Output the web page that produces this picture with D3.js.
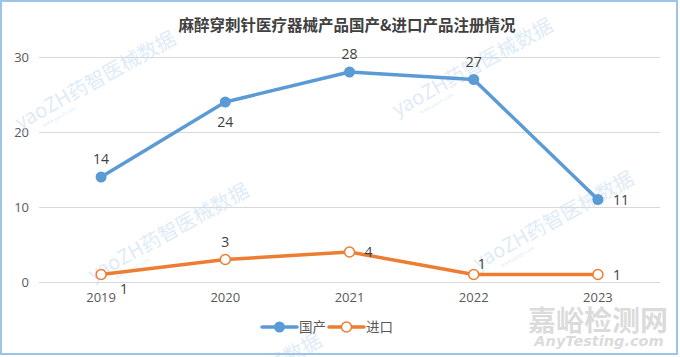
<!DOCTYPE html>
<html><head><meta charset="utf-8">
<script src="https://cdn.jsdelivr.net/npm/d3@7"></script>
<style>
html,body{margin:0;padding:0;background:#fff;}
svg{display:block;}
</style></head>
<body>
<svg id="chart" width="680" height="357"></svg>
<script>
const title = "麻醉穿刺针医疗器械产品国产&进口产品注册情况";
const categories = ["2019","2020","2021","2022","2023"];
const domestic = [14,24,28,27,11];
const imported = [1,3,4,1,1];
const seriesNames = ["国产","进口"];
const yTicks = [0,10,20,30];
// label placement (style, not data)
const domesticLabelPos = ["above","below","above","above","right"];
const importedLabelPos = ["belowright","above","right","aboveright","right"];

const W = 680, H = 357;
const svg = d3.select("#chart");
const font = "'Open Sans','Noto Sans','Noto Sans CJK SC',sans-serif";
const cjk = "'Noto Sans CJK SC','Noto Sans',sans-serif";
const blue = "#5b9bd5", orange = "#ed7d31";

svg.append("rect").attr("x",0).attr("y",0).attr("width",W).attr("height",H).attr("fill","#fff");

const x = d3.scaleBand().domain(categories).range([39,660]);
const y = d3.scaleLinear().domain([0,30]).range([282,57]);
const cx = c => x(c) + x.bandwidth()/2;

// grid
const grid = svg.append("g").attr("transform","translate(39,0)")
  .call(d3.axisLeft(y).tickValues(yTicks).tickSize(-(660-39)).tickFormat(""));
grid.select(".domain").remove();
grid.selectAll("line").attr("stroke","#d9d9d9").attr("stroke-width",1);

// y tick labels
const yAx = svg.append("g").attr("transform","translate(39,0)")
  .call(d3.axisLeft(y).tickValues(yTicks).tickSize(0).tickPadding(10));
yAx.select(".domain").remove();
yAx.selectAll("text").attr("font-family",font).attr("font-size",13).attr("fill","#595959");

// x labels
const xAx = svg.append("g").attr("transform","translate(0,282)")
  .call(d3.axisBottom(x).tickSize(0).tickPadding(11));
xAx.select(".domain").remove();
xAx.selectAll("text").attr("font-family",font).attr("font-size",13).attr("fill","#595959");

// watermarks
const wm = svg.append("g").attr("pointer-events","none");
const wmStarts = [[20,130],[397,117],[93,282],[478,270],[166,432]];
wmStarts.forEach(([sx,sy])=>{
  const g = wm.append("g").attr("transform",`translate(${sx},${sy}) rotate(-29)`);
  g.append("text").attr("font-family",cjk).attr("font-size",20)
    .attr("fill","#c9def3").attr("fill-opacity",0.6).text("yaoZH药智医械数据");
  g.append("text").attr("x",22).attr("y",9).attr("font-family",font).attr("font-size",5)
    .attr("fill","#c9def3").attr("fill-opacity",0.7).text("www.yaozh.com");
});

// lines
const line = d3.line().x((d,i)=>cx(categories[i])).y(d=>y(d));
svg.append("path").datum(domestic).attr("d",line).attr("fill","none")
  .attr("stroke",blue).attr("stroke-width",3.5).attr("stroke-linejoin","round").attr("stroke-linecap","round");
svg.append("path").datum(imported).attr("d",line).attr("fill","none")
  .attr("stroke",orange).attr("stroke-width",3.5).attr("stroke-linejoin","round").attr("stroke-linecap","round");

svg.append("g").selectAll("circle").data(domestic).join("circle")
  .attr("cx",(d,i)=>cx(categories[i])).attr("cy",d=>y(d)).attr("r",5.5).attr("fill",blue);
svg.append("g").selectAll("circle").data(imported).join("circle")
  .attr("cx",(d,i)=>cx(categories[i])).attr("cy",d=>y(d)).attr("r",5).attr("fill","#fff")
  .attr("stroke",orange).attr("stroke-width",1.5);

function offs(p){
  switch(p){
    case "above": return [0,-13,"middle"];
    case "below": return [0,25,"middle"];
    case "right": return [15,5,"start"];
    case "belowright": return [19,19,"start"];
    case "aboveright": return [4,-6,"start"];
  }
}
function labels(data,pos){
  svg.append("g").selectAll("text").data(data).join("text")
    .attr("x",(d,i)=>cx(categories[i])+offs(pos[i])[0])
    .attr("y",(d,i)=>y(d)+offs(pos[i])[1])
    .attr("text-anchor",(d,i)=>offs(pos[i])[2])
    .attr("font-family",font).attr("font-size",14).attr("fill","#404040")
    .text(d=>d);
}
labels(domestic,domesticLabelPos);
labels(imported,importedLabelPos);

// title
svg.append("text").attr("x",347).attr("y",31).attr("text-anchor","middle")
  .attr("font-family",cjk).attr("font-weight","bold").attr("font-size",15.5).attr("fill","#404040")
  .text(title);

// legend
const lg = svg.append("g");
const legendItems = [
  {name:seriesNames[0], color:blue, filled:true, x0:262},
  {name:seriesNames[1], color:orange, filled:false, x0:329}
];
legendItems.forEach(it=>{
  lg.append("line").attr("x1",it.x0).attr("x2",it.x0+35).attr("y1",327).attr("y2",327)
    .attr("stroke",it.color).attr("stroke-width",3.5).attr("stroke-linecap","round");
  lg.append("circle").attr("cx",it.x0+17.5).attr("cy",327).attr("r",it.filled?5.5:5)
    .attr("fill",it.filled?it.color:"#fff").attr("stroke",it.filled?"none":it.color).attr("stroke-width",1.5);
  lg.append("text").attr("x",it.x0+37).attr("y",332).attr("font-family",cjk).attr("font-size",13.5)
    .attr("fill","#595959").text(it.name);
});

// AnyTesting logo
svg.append("text").attr("x",598).attr("y",331).attr("text-anchor","middle")
  .attr("font-family",cjk).attr("font-weight","bold").attr("font-size",28).attr("fill","#d5d5d5")
  .attr("fill-opacity",0.85).text("嘉峪检测网");
svg.append("text").attr("x",599).attr("y",346).attr("text-anchor","middle")
  .attr("font-family","'DejaVu Sans',sans-serif").attr("font-style","italic").attr("font-weight","bold")
  .attr("font-size",14.5).attr("fill","#d5d5d5").attr("fill-opacity",0.85).text("AnyTesting.com");

// frame
svg.append("rect").attr("x",1).attr("y",1).attr("width",676).attr("height",353)
  .attr("fill","none").attr("stroke","#9dc3e6").attr("stroke-width",2);
</script>
</body></html>
